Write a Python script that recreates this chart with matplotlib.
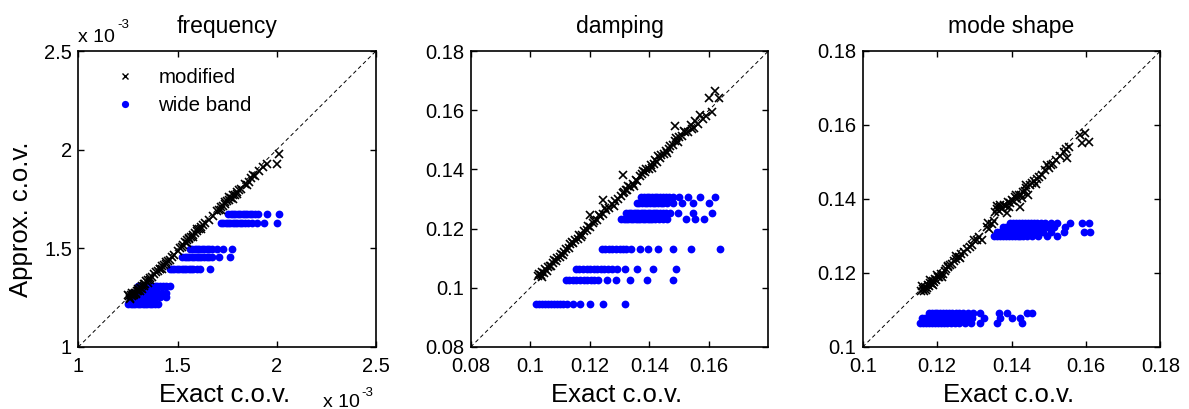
import matplotlib
matplotlib.use("Agg")
import matplotlib.pyplot as plt

plt.rcParams['font.family'] = ['Liberation Sans', 'DejaVu Sans']

# ---------------- data ----------------
titles = ["frequency", "damping", "mode shape"]
xlabel_txt = "Exact c.o.v."
ylabel_txt = "Approx. c.o.v."
legend_labels = ["modified", "wide band"]

# frequency (values in units of 1e-3)
freq_lim = [1.0, 2.5]
freq_xticks = [1.0, 1.5, 2.0, 2.5]
freq_yticks = [1.0, 1.5, 2.0, 2.5]
freq_xticklabels = ["1", "1.5", "2", "2.5"]
freq_yticklabels = ["1", "1.5", "2", "2.5"]
freq_mod = [(1.25, 1.262), (1.255, 1.258), (1.26, 1.250), (1.265, 1.262), (1.27, 1.258),
            (1.275, 1.266), (1.28, 1.262), (1.285, 1.272), (1.29, 1.276), (1.295, 1.282),
            (1.30, 1.286), (1.305, 1.290), (1.31, 1.298), (1.315, 1.300), (1.32, 1.308),
            (1.33, 1.320), (1.335, 1.318), (1.34, 1.332), (1.35, 1.338), (1.36, 1.350),
            (1.37, 1.356), (1.38, 1.368), (1.39, 1.378), (1.40, 1.386), (1.41, 1.394),
            (1.412, 1.397), (1.42, 1.410), (1.43, 1.418), (1.44, 1.420), (1.45, 1.436),
            (1.47, 1.458), (1.48, 1.466), (1.50, 1.488), (1.51, 1.500), (1.52, 1.508),
            (1.53, 1.516), (1.54, 1.530), (1.55, 1.540), (1.56, 1.548), (1.57, 1.556),
            (1.58, 1.568), (1.59, 1.578), (1.60, 1.586), (1.61, 1.596), (1.62, 1.610),
            (1.64, 1.628), (1.66, 1.646), (1.68, 1.666), (1.70, 1.688), (1.71, 1.694),
            (1.72, 1.708), (1.73, 1.716), (1.74, 1.724), (1.75, 1.738), (1.76, 1.746),
            (1.77, 1.756), (1.78, 1.768), (1.79, 1.772), (1.80, 1.786), (1.82, 1.800),
            (1.84, 1.826), (1.86, 1.838), (1.87, 1.856), (1.89, 1.868), (1.91, 1.890),
            (1.93, 1.910), (1.95, 1.926), (2.0, 1.926), (2.013, 1.977),
            (1.26, 1.245), (1.27, 1.272), (1.28, 1.270), (1.29, 1.268), (1.30, 1.296),
            (1.31, 1.286), (1.32, 1.296), (1.33, 1.310), (1.35, 1.326), (1.36, 1.340),
            (1.42, 1.396), (1.44, 1.430), (1.46, 1.440), (1.55, 1.528), (1.56, 1.552),
            (1.58, 1.556), (1.60, 1.596), (1.62, 1.596), (1.63, 1.618), (1.72, 1.694),
            (1.74, 1.736), (1.76, 1.758), (1.78, 1.750), (1.80, 1.776), (1.81, 1.798),
            (1.85, 1.822), (1.88, 1.872)]
freq_wb_levels = [1.676, 1.628, 1.499, 1.456, 1.397, 1.308, 1.275, 1.252, 1.220]
freq_wb_rows = [
    [1.756, 1.768, 1.78, 1.792, 1.804, 1.816, 1.828, 1.84, 1.852, 1.864, 1.876, 1.89, 1.906, 1.95, 2.013],
    [1.717, 1.73, 1.742, 1.754, 1.766, 1.778, 1.79, 1.802, 1.814, 1.826, 1.84, 1.856, 1.876, 1.899, 1.936, 2.0],
    [1.562, 1.574, 1.586, 1.598, 1.61, 1.622, 1.634, 1.646, 1.66, 1.676, 1.697, 1.727, 1.773],
    [1.524, 1.536, 1.548, 1.56, 1.572, 1.584, 1.596, 1.608, 1.62, 1.632, 1.646, 1.66, 1.676, 1.71, 1.764],
    [1.46, 1.472, 1.484, 1.496, 1.508, 1.52, 1.532, 1.544, 1.556, 1.568, 1.58, 1.596, 1.614, 1.664],
    [1.30, 1.312, 1.324, 1.336, 1.348, 1.36, 1.372, 1.384, 1.396, 1.41, 1.425, 1.44, 1.462],
    [1.27, 1.282, 1.294, 1.306, 1.318, 1.33, 1.342, 1.354, 1.366, 1.378, 1.39, 1.402, 1.42, 1.442],
    [1.262, 1.274, 1.286, 1.298, 1.31, 1.322, 1.334, 1.346, 1.358, 1.37, 1.382, 1.394, 1.41, 1.442],
    [1.252, 1.264, 1.276, 1.288, 1.3, 1.312, 1.324, 1.336, 1.348, 1.36, 1.372, 1.386, 1.403],
]

# damping
damp_lim = [0.08, 0.18]
damp_xticks = [0.08, 0.10, 0.12, 0.14, 0.16]
damp_yticks = [0.08, 0.10, 0.12, 0.14, 0.16, 0.18]
damp_xticklabels = ["0.08", "0.1", "0.12", "0.14", "0.16"]
damp_yticklabels = ["0.08", "0.1", "0.12", "0.14", "0.16", "0.18"]
damp_mod = [(0.1025, 0.1040), (0.1030, 0.1048), (0.1035, 0.1042), (0.1040, 0.1055), (0.1045, 0.1050),
            (0.1050, 0.1062), (0.1055, 0.1058), (0.1060, 0.1070), (0.1070, 0.1075), (0.1075, 0.1085),
            (0.1085, 0.1090), (0.1090, 0.1102), (0.1100, 0.1105), (0.1105, 0.1115), (0.1115, 0.1120),
            (0.1120, 0.1132), (0.1130, 0.1135), (0.1135, 0.1148), (0.1145, 0.1150), (0.1150, 0.1162),
            (0.1160, 0.1165), (0.1165, 0.1180), (0.1175, 0.1180), (0.1180, 0.1192), (0.1190, 0.1195),
            (0.1200, 0.1247), (0.1200, 0.1205), (0.1210, 0.1218), (0.1215, 0.1225), (0.1225, 0.1230),
            (0.1235, 0.1242), (0.1245, 0.1298), (0.1245, 0.1250), (0.1255, 0.1262), (0.1265, 0.1270),
            (0.1275, 0.1282), (0.1285, 0.1292), (0.1295, 0.1300), (0.1305, 0.1310), (0.1312, 0.1382),
            (0.1315, 0.1322), (0.1320, 0.1330), (0.1325, 0.1330), (0.1335, 0.1342), (0.1345, 0.1352),
            (0.1355, 0.1365), (0.1360, 0.1362), (0.1370, 0.1378), (0.1375, 0.1385), (0.1385, 0.1390),
            (0.1390, 0.1400), (0.1400, 0.1402), (0.1405, 0.1415), (0.1415, 0.1418), (0.1420, 0.1432),
            (0.1425, 0.1425), (0.1435, 0.1440), (0.1440, 0.1450), (0.1450, 0.1452), (0.1455, 0.1462),
            (0.1465, 0.1470), (0.1470, 0.1478), (0.1478, 0.1482), (0.1485, 0.1545), (0.1485, 0.1495),
            (0.1495, 0.1492), (0.1500, 0.1510), (0.1510, 0.1512), (0.1520, 0.1528), (0.1530, 0.1525),
            (0.1540, 0.1550), (0.1545, 0.1535), (0.1555, 0.1565), (0.1570, 0.1585), (0.1580, 0.1570),
            (0.1590, 0.1582), (0.1600, 0.1641), (0.1611, 0.1595), (0.1619, 0.1666), (0.1633, 0.1641),
            (0.1040, 0.1035), (0.1065, 0.1075), (0.1080, 0.1095), (0.1110, 0.1112), (0.1140, 0.1155),
            (0.1170, 0.1170), (0.1195, 0.1210), (0.1230, 0.1245), (0.1250, 0.1270), (0.1280, 0.1275),
            (0.1310, 0.1320), (0.1330, 0.1345), (0.1350, 0.1345), (0.1380, 0.1395), (0.1410, 0.1405),
            (0.1430, 0.1445), (0.1460, 0.1455), (0.1490, 0.1505), (0.1515, 0.1530), (0.1550, 0.1540),
            (0.1565, 0.1555)]
damp_wb_levels = [0.1307, 0.1285, 0.1253, 0.1233, 0.1132, 0.1062, 0.1026, 0.0944]
damp_wb_rows = [
    [0.1373, 0.1382, 0.1391, 0.14, 0.1409, 0.1418, 0.1427, 0.1436, 0.1445, 0.1455, 0.1466, 0.1479, 0.150, 0.153, 0.157, 0.1622],
    [0.1357, 0.1366, 0.1375, 0.1384, 0.1393, 0.1402, 0.1411, 0.142, 0.1429, 0.1438, 0.1447, 0.1458, 0.148, 0.151, 0.1546, 0.1602],
    [0.1323, 0.1331, 0.1339, 0.1347, 0.1355, 0.1363, 0.1371, 0.1379, 0.1387, 0.1395, 0.1403, 0.1411, 0.1419, 0.1427, 0.1435, 0.1445, 0.1455, 0.1468, 0.1495, 0.1546, 0.1611],
    [0.1306, 0.1314, 0.1322, 0.133, 0.1338, 0.1346, 0.1354, 0.1362, 0.137, 0.1378, 0.1386, 0.1394, 0.1402, 0.141, 0.142, 0.1432, 0.1445, 0.1461, 0.1524, 0.1554, 0.1585],
    [0.1240, 0.1252, 0.1264, 0.1276, 0.1288, 0.13, 0.1312, 0.1323, 0.134, 0.1368, 0.1395, 0.1429, 0.1479, 0.1541, 0.1636],
    [0.1153, 0.1165, 0.1177, 0.1189, 0.1201, 0.1213, 0.1225, 0.1237, 0.1249, 0.1261, 0.1273, 0.129, 0.1317, 0.1357, 0.1412, 0.1488],
    [0.1119, 0.1131, 0.1143, 0.1155, 0.1167, 0.1179, 0.1191, 0.1203, 0.1215, 0.1227, 0.1258, 0.1289, 0.1336, 0.1392, 0.1479],
    [0.1021, 0.1031, 0.1041, 0.1051, 0.1061, 0.1071, 0.1081, 0.1091, 0.1101, 0.1111, 0.1122, 0.1144, 0.1166, 0.12, 0.1245, 0.1317],
]

# mode shape
mode_lim = [0.10, 0.18]
mode_xticks = [0.10, 0.12, 0.14, 0.16, 0.18]
mode_yticks = [0.10, 0.12, 0.14, 0.16, 0.18]
mode_xticklabels = ["0.1", "0.12", "0.14", "0.16", "0.18"]
mode_yticklabels = ["0.1", "0.12", "0.14", "0.16", "0.18"]
mode_mod = [(0.1158, 0.1152), (0.1162, 0.1158), (0.1165, 0.1150), (0.1168, 0.1162), (0.1172, 0.1160),
            (0.1175, 0.1168), (0.1178, 0.1165), (0.1182, 0.1172), (0.1185, 0.1170), (0.1188, 0.1178),
            (0.1192, 0.1176), (0.1195, 0.1185), (0.1198, 0.1182), (0.1202, 0.1190), (0.1206, 0.1188),
            (0.1210, 0.1198), (0.1215, 0.1196), (0.1220, 0.1205), (0.1225, 0.1210), (0.1230, 0.1215),
            (0.1235, 0.1222), (0.1240, 0.1225), (0.1245, 0.1232), (0.1252, 0.1238), (0.1258, 0.1242),
            (0.1265, 0.1252), (0.1272, 0.1258), (0.1280, 0.1265), (0.1288, 0.1270), (0.1300, 0.1288),
            (0.1307, 0.1289), (0.1312, 0.1298), (0.1335, 0.1325), (0.1340, 0.1318), (0.1348, 0.1332),
            (0.1352, 0.1340), (0.1356, 0.1365), (0.1360, 0.1372), (0.1362, 0.1382), (0.1365, 0.1368),
            (0.1368, 0.1385), (0.1370, 0.1378), (0.1375, 0.1372), (0.1380, 0.1385), (0.1385, 0.1380),
            (0.1388, 0.1361), (0.1390, 0.1392), (0.1395, 0.1388), (0.1400, 0.1398), (0.1405, 0.1395),
            (0.1410, 0.1405), (0.1415, 0.1400), (0.1420, 0.1412), (0.1423, 0.1379), (0.1425, 0.1410),
            (0.1430, 0.1418), (0.1435, 0.1422), (0.1440, 0.1430), (0.1445, 0.1412), (0.1450, 0.1438),
            (0.1455, 0.1442), (0.1460, 0.1448), (0.1468, 0.1455), (0.1475, 0.1460), (0.1482, 0.1465),
            (0.1490, 0.1478), (0.1500, 0.1485), (0.1505, 0.1492), (0.1512, 0.1495), (0.1520, 0.1505),
            (0.1540, 0.1528), (0.1545, 0.1535), (0.1550, 0.1512), (0.1555, 0.1540), (0.1585, 0.1573),
            (0.1589, 0.1551), (0.1598, 0.1578), (0.1607, 0.1555),
            (0.1160, 0.1165), (0.1170, 0.1155), (0.1180, 0.1180), (0.1190, 0.1168), (0.1200, 0.1195),
            (0.1212, 0.1190), (0.1228, 0.1220), (0.1250, 0.1245), (0.1262, 0.1240), (0.1295, 0.1275),
            (0.1320, 0.1290), (0.1338, 0.1335), (0.1392, 0.1378), (0.1412, 0.1412), (0.1428, 0.1402),
            (0.1438, 0.1438), (0.1465, 0.1440), (0.1495, 0.1492), (0.1530, 0.1515)]
mode_wb_levels = [0.1336, 0.1325, 0.1312, 0.1300, 0.1091, 0.1078, 0.1066]
mode_wb_rows = [
    [0.1396, 0.1404, 0.1412, 0.142, 0.1428, 0.1436, 0.1444, 0.1452, 0.146, 0.1468, 0.1478, 0.149, 0.1505, 0.1522, 0.1558, 0.1589, 0.1607],
    [0.1378, 0.1386, 0.1394, 0.1402, 0.141, 0.1418, 0.1426, 0.1434, 0.1442, 0.145, 0.146, 0.147, 0.1485, 0.1498, 0.1513, 0.1544],
    [0.1361, 0.1369, 0.1377, 0.1385, 0.1393, 0.1401, 0.1409, 0.1417, 0.1425, 0.1433, 0.1441, 0.145, 0.146, 0.1472, 0.1485, 0.1505, 0.154, 0.1594, 0.1612],
    [0.1352, 0.136, 0.1368, 0.1376, 0.1384, 0.1392, 0.14, 0.1408, 0.1416, 0.1424, 0.1432, 0.1442, 0.1455, 0.1472, 0.1495, 0.1522],
    [0.1177, 0.1185, 0.1193, 0.1201, 0.1209, 0.1217, 0.1225, 0.1233, 0.1241, 0.125, 0.126, 0.127, 0.1282, 0.1296, 0.1316, 0.1365, 0.1388, 0.1441, 0.1455],
    [0.1159, 0.1167, 0.1175, 0.1183, 0.1191, 0.1199, 0.1207, 0.1215, 0.1223, 0.1232, 0.1242, 0.1252, 0.1264, 0.1278, 0.1295, 0.1325, 0.1369, 0.1401, 0.1423],
    [0.1154, 0.1162, 0.117, 0.1178, 0.1186, 0.1194, 0.1202, 0.121, 0.1218, 0.1227, 0.1237, 0.1248, 0.126, 0.1275, 0.1292, 0.1316, 0.1361, 0.1428],
]

panels = [
    (freq_lim, freq_xticks, freq_yticks, freq_xticklabels, freq_yticklabels, freq_mod, freq_wb_levels, freq_wb_rows),
    (damp_lim, damp_xticks, damp_yticks, damp_xticklabels, damp_yticklabels, damp_mod, damp_wb_levels, damp_wb_rows),
    (mode_lim, mode_xticks, mode_yticks, mode_xticklabels, mode_yticklabels, mode_mod, mode_wb_levels, mode_wb_rows),
]

# ---------------- figure ----------------
W, H = 1189, 409
fig = plt.figure(figsize=(W / 100, H / 100), dpi=100)
lefts = [78.3, 470.7, 862.7]
ax_w = 297.7
ax_top, ax_bot = 51, 347

for i, (lim, xt, yt, xtl, ytl, mod, levels, rows) in enumerate(panels):
    ax = fig.add_axes([lefts[i] / W, (H - ax_bot) / H, ax_w / W, (ax_bot - ax_top) / H])
    ax.plot(lim, lim, color='black', lw=0.7, ls=(0, (4, 3)), zorder=1)
    wx = [x for row in rows for x in row]
    wy = [lv for lv, row in zip(levels, rows) for _ in row]
    ax.plot(wx, wy, 'o', color='blue', ms=5.6, mec='blue', mew=0, ls='none', zorder=2,
            label=legend_labels[1])
    mx = [p[0] for p in mod]
    my = [p[1] for p in mod]
    ax.plot(mx, my, 'x', color='black', ms=6.3, mew=1.2, ls='none', zorder=3,
            label=legend_labels[0])
    ax.set_xlim(lim)
    ax.set_ylim(lim)
    ax.set_xticks(xt)
    ax.set_yticks(yt)
    ax.set_xticklabels(xtl)
    ax.set_yticklabels(ytl)
    ax.tick_params(direction='in', top=True, right=True, length=4, width=1,
                   labelsize=14.5, colors='black')
    ax.tick_params(axis='x', pad=7.5)
    ax.tick_params(axis='y', pad=4.5)
    for s in ax.spines.values():
        s.set_linewidth(1.2)
    ax.set_title(titles[i], fontsize=16.5, pad=12.7)
    ax.set_xlabel(xlabel_txt, fontsize=18.5)
    ax.xaxis.set_label_coords(0.49, -0.122)
    if i == 0:
        ax.set_ylabel(ylabel_txt, fontsize=18.5)
        ax.yaxis.set_label_coords(-0.151, 0.43)
        h, l = ax.get_legend_handles_labels()
        leg = ax.legend(h[::-1], l[::-1], loc='upper left', frameon=False, fontsize=14.8,
                        bbox_to_anchor=((107 - 78.3) / ax_w, 0.9426), borderaxespad=0,
                        borderpad=0, handlelength=1.75, handletextpad=0.75, labelspacing=0.45)
        leg.legend_handles[0].set_markersize(4.5)
        leg.legend_handles[0].set_markeredgewidth(1.0)
        leg.legend_handles[1].set_markersize(5.2)

# exponent labels for the frequency panel
fig.text(78 / W, 1 - 42.5 / H, "x 10", fontsize=14, ha='left', va='baseline')
fig.text(117 / W, 1 - 28 / H, "-3", fontsize=9.5, ha='left', va='baseline')
fig.text(323 / W, 1 - 407 / H, "x 10", fontsize=14, ha='left', va='baseline')
fig.text(361 / W, 1 - 396 / H, "-3", fontsize=9.5, ha='left', va='baseline')

fig.savefig("out.png", dpi=100)
